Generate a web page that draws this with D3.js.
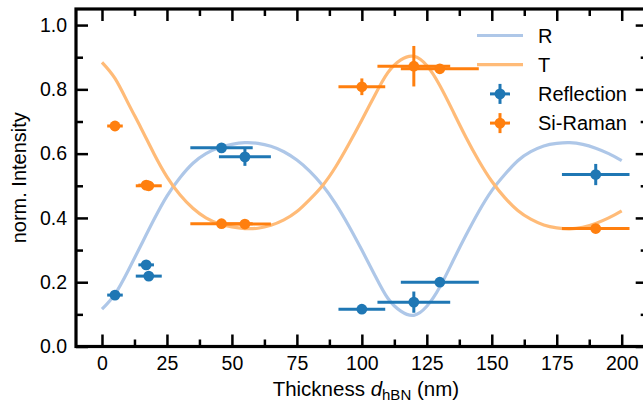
<!DOCTYPE html>
<html>
<head>
<meta charset="utf-8">
<script src="https://cdn.jsdelivr.net/npm/d3@7"></script>
<style>
  body { margin: 0; background: #fff; }
  svg { display: block; font-family: "Liberation Sans", Arial, sans-serif; }
</style>
</head>
<body>
<div id="chart"></div>
<script>
// simulated curves, every 5 nm
var curveThick = [0, 5, 10, 15, 20, 25, 30, 35, 40, 45, 50, 55, 60, 65, 70, 75, 80, 85, 90, 95, 100,
  105, 110, 115, 120, 125, 130, 135, 140, 145, 150, 155, 160, 165, 170, 175, 180, 185, 190, 195, 200];
var curveR = [0.116, 0.163, 0.235, 0.315, 0.395, 0.468, 0.525, 0.570, 0.600, 0.618, 0.629, 0.634, 0.632,
  0.623, 0.606, 0.580, 0.545, 0.500, 0.443, 0.375, 0.300, 0.222, 0.150, 0.110, 0.097, 0.125, 0.185,
  0.265, 0.345, 0.420, 0.485, 0.535, 0.578, 0.606, 0.624, 0.632, 0.634, 0.629, 0.617, 0.600, 0.578];
var curveT = [0.884, 0.834, 0.758, 0.680, 0.600, 0.528, 0.472, 0.430, 0.400, 0.382, 0.372, 0.367, 0.368,
  0.377, 0.394, 0.420, 0.458, 0.502, 0.560, 0.630, 0.705, 0.782, 0.852, 0.892, 0.903, 0.874, 0.812,
  0.733, 0.652, 0.578, 0.514, 0.463, 0.423, 0.396, 0.378, 0.369, 0.366, 0.371, 0.383, 0.400, 0.422];

// measured samples
var sampleThick = [5, 17, 18, 46, 55, 100, 120, 130, 190];
var sampleThickErr = [3, 3, 5, 12, 10, 9, 14, 15, 13];
var reflVal = [0.160, 0.254, 0.219, 0.618, 0.590, 0.116, 0.138, 0.200, 0.535];
var reflErr = [0.01, 0.01, 0.01, 0.01, 0.028, 0.01, 0.033, 0.01, 0.033];
var ramanVal = [0.686, 0.502, 0.500, 0.382, 0.381, 0.808, 0.872, 0.864, 0.367];
var ramanErr = [0.01, 0.01, 0.01, 0.01, 0.01, 0.026, 0.063, 0.01, 0.01];

var xMajor = [0, 25, 50, 75, 100, 125, 150, 175, 200];
var xMinor = [12.5, 37.5, 62.5, 87.5, 112.5, 137.5, 162.5, 187.5];
var yMajor = [0, 0.2, 0.4, 0.6, 0.8, 1.0];
var yMinor = [0.1, 0.3, 0.5, 0.7, 0.9];

var W = 643, H = 410;
var mLeft = 76, mRight = 647.7, mTop = 9, mBottom = 346.5;
var fontSize = 19.5;

var x = d3.scaleLinear().domain([-10, 210]).range([mLeft, mRight]);
var y = d3.scaleLinear().domain([0, 1.05]).range([mBottom, mTop]);

var svg = d3.select("#chart").append("svg").attr("width", W).attr("height", H);

// curves
var line = d3.line().curve(d3.curveNatural);
function curvePts(vals) { return curveThick.map((t, i) => [x(t), y(vals[i])]); }
svg.append("path").attr("d", line(curvePts(curveR)))
  .attr("fill", "none").attr("stroke", "#aec7e8").attr("stroke-width", 3.2);
svg.append("path").attr("d", line(curvePts(curveT)))
  .attr("fill", "none").attr("stroke", "#ffbb78").attr("stroke-width", 3.2);

// error bar series
function errSeries(vals, errs, color) {
  var g = svg.append("g").attr("stroke", color).attr("fill", color).attr("stroke-width", 3);
  sampleThick.forEach(function (t, i) {
    g.append("line").attr("x1", x(t - sampleThickErr[i])).attr("x2", x(t + sampleThickErr[i]))
      .attr("y1", y(vals[i])).attr("y2", y(vals[i]));
    g.append("line").attr("x1", x(t)).attr("x2", x(t))
      .attr("y1", y(vals[i] - errs[i])).attr("y2", y(vals[i] + errs[i]));
  });
  g.selectAll("circle").data(sampleThick).enter().append("circle")
    .attr("cx", d => x(d)).attr("cy", (d, i) => y(vals[i])).attr("r", 5.4).attr("stroke", "none");
}
errSeries(reflVal, reflErr, "#1f77b4");
errSeries(ramanVal, ramanErr, "#ff7f0e");

// axes, ticks pointing inward on all sides
function styleAxis(g) {
  g.select(".domain").remove();
  g.selectAll(".tick line").attr("stroke", "#000").attr("stroke-width", 2.5);
  g.selectAll(".tick text").attr("font-size", fontSize).attr("fill", "#000")
    .attr("font-family", "Liberation Sans, Arial, sans-serif");
}
svg.append("g").attr("transform", `translate(0,${mBottom})`)
  .call(d3.axisBottom(x).tickValues(xMajor).tickSize(-12).tickPadding(10)).call(styleAxis);
svg.append("g").attr("transform", `translate(0,${mBottom})`)
  .call(d3.axisBottom(x).tickValues(xMinor).tickSize(-7).tickFormat("")).call(styleAxis);
svg.append("g").attr("transform", `translate(0,${mTop})`)
  .call(d3.axisTop(x).tickValues(xMajor).tickSize(-12).tickFormat("")).call(styleAxis);
svg.append("g").attr("transform", `translate(0,${mTop})`)
  .call(d3.axisTop(x).tickValues(xMinor).tickSize(-7).tickFormat("")).call(styleAxis);
svg.append("g").attr("transform", `translate(${mLeft},0)`)
  .call(d3.axisLeft(y).tickValues(yMajor).tickSize(-12).tickPadding(9).tickFormat(d3.format(".1f"))).call(styleAxis);
svg.append("g").attr("transform", `translate(${mLeft},0)`)
  .call(d3.axisLeft(y).tickValues(yMinor).tickSize(-7).tickFormat("")).call(styleAxis);
svg.append("g").attr("transform", `translate(${mRight},0)`)
  .call(d3.axisRight(y).tickValues(yMajor).tickSize(-12).tickFormat("")).call(styleAxis);
svg.append("g").attr("transform", `translate(${mRight},0)`)
  .call(d3.axisRight(y).tickValues(yMinor).tickSize(-7).tickFormat("")).call(styleAxis);

svg.append("rect").attr("x", mLeft).attr("y", mTop).attr("width", mRight - mLeft).attr("height", mBottom - mTop)
  .attr("fill", "none").attr("stroke", "#000").attr("stroke-width", 3.2);

// axis titles
var xt = svg.append("text").attr("x", (mLeft + mRight) / 2 + 4).attr("y", 396)
  .attr("text-anchor", "middle").attr("font-size", 20.5);
xt.append("tspan").text("Thickness ");
xt.append("tspan").attr("font-style", "italic").text("d");
xt.append("tspan").attr("font-size", 15).attr("dy", 4).text("hBN");
xt.append("tspan").attr("dy", -4).text(" (nm)");

svg.append("text").attr("transform", `translate(25.5,${(mTop + mBottom) / 2}) rotate(-90)`)
  .attr("text-anchor", "middle").attr("font-size", 20).text("norm. Intensity");

// legend
var legend = [
  { label: "R", type: "line", color: "#aec7e8" },
  { label: "T", type: "line", color: "#ffbb78" },
  { label: "Reflection", type: "err", color: "#1f77b4" },
  { label: "Si-Raman", type: "err", color: "#ff7f0e" }
];
var lg = svg.append("g");
legend.forEach(function (d, i) {
  var cy = 35.5 + i * 29.2;
  if (d.type === "line") {
    lg.append("line").attr("x1", 477).attr("x2", 523).attr("y1", cy).attr("y2", cy)
      .attr("stroke", d.color).attr("stroke-width", 3.2);
  } else {
    lg.append("line").attr("x1", 490).attr("x2", 510).attr("y1", cy).attr("y2", cy)
      .attr("stroke", d.color).attr("stroke-width", 3);
    lg.append("line").attr("x1", 500).attr("x2", 500).attr("y1", cy - 10).attr("y2", cy + 10)
      .attr("stroke", d.color).attr("stroke-width", 3);
    lg.append("circle").attr("cx", 500).attr("cy", cy).attr("r", 5.4).attr("fill", d.color);
  }
  lg.append("text").attr("x", 538).attr("y", cy + 7).attr("font-size", 20).text(d.label);
});
</script>
</body>
</html>
